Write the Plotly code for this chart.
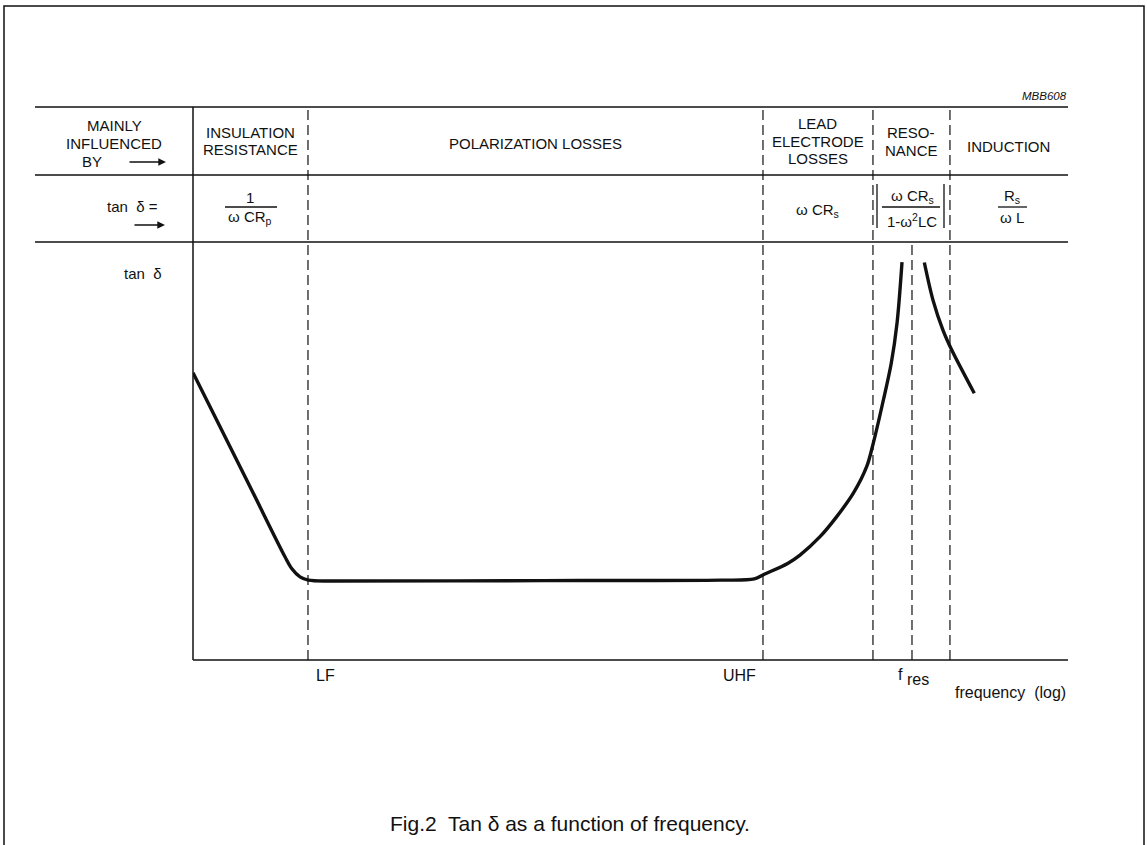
import plotly.graph_objects as go

# ---------------- data (x: log frequency, arbitrary 0-100; y: tan delta, arbitrary 0-100)
low_x = [0, 6.32, 10.51, 11.28, 12.23, 13.18, 16.23, 40.0, 60.34, 64.15, 65.29, 67.96, 69.37, 71.66,
         73.57, 75.47, 77.0, 77.75, 78.9, 79.8, 80.46, 81.03]
low_y = [68.7, 42.3, 24.7, 21.9, 19.9, 19.1, 18.9, 19.0, 19.1, 19.4, 20.5, 23.1, 25.1, 29.5,
         34.3, 39.9, 46.3, 51.9, 62.2, 71.0, 80.6, 95.2]
high_x = [83.58, 84.57, 85.71, 86.70, 89.29]
high_y = [95.1, 86.1, 78.9, 74.2, 63.8]

# region boundaries on the frequency axis
boundary_x = [13.14, 65.14, 77.71, 86.51]        # LF, UHF, lead/resonance, resonance/induction
fres_x = 82.17
tick_labels = ["LF", "UHF"]

region_heads = [["MAINLY", "INFLUENCED", "BY"], ["INSULATION", "RESISTANCE"], ["POLARIZATION LOSSES"],
                ["LEAD", "ELECTRODE", "LOSSES"], ["RESO-", "NANCE"], ["INDUCTION"]]

# ---------------- geometry
W, H = 1147, 845
L, R, T, B = 193, 1068, 242, 660
XMAX = 100.0

def px_x(px):
    return (px - L) / (R - L)

def px_y(py):
    return (B - py) / (B - T)

def dx(x):
    return L + (R - L) * x / XMAX

FONT = "Liberation Sans, Arial, Helvetica, sans-serif"
INK = "#111111"

fig = go.Figure()
for xs, ys in ((low_x, low_y), (high_x, high_y)):
    fig.add_trace(go.Scatter(x=xs, y=ys, mode="lines",
                             line=dict(color=INK, width=3.4, shape="spline", smoothing=0.9),
                             hoverinfo="skip", showlegend=False))

shapes = []
# outer frame
shapes.append(dict(type="rect", xref="paper", yref="paper", x0=px_x(4), x1=px_x(1144),
                   y0=px_y(850), y1=px_y(6), line=dict(color=INK, width=1.5)))
# table horizontal rules
for py in (107, 175):
    shapes.append(dict(type="line", xref="paper", yref="paper", x0=px_x(35), x1=px_x(1068),
                       y0=px_y(py), y1=px_y(py), line=dict(color=INK, width=1.5)))
shapes.append(dict(type="line", xref="paper", yref="paper", x0=px_x(35), x1=px_x(1068),
                   y0=1, y1=1, line=dict(color=INK, width=1.5)))
# left solid column line / y axis
shapes.append(dict(type="line", xref="paper", yref="paper", x0=0, x1=0, y0=0, y1=px_y(107),
                   line=dict(color=INK, width=1.5)))
# bottom axis
shapes.append(dict(type="line", xref="paper", yref="paper", x0=0, x1=1, y0=0, y1=0,
                   line=dict(color=INK, width=1.5)))
# dashed boundaries
for bx in boundary_x:
    shapes.append(dict(type="line", xref="x", yref="paper", x0=bx, x1=bx, y0=0, y1=px_y(107),
                       line=dict(color=INK, width=1.2, dash="10px,5px")))
shapes.append(dict(type="line", xref="x", yref="paper", x0=fres_x, x1=fres_x, y0=0, y1=1,
                   line=dict(color=INK, width=1.2, dash="10px,5px")))

ann = []
def text(px, py, s, size=15, xanchor="center", **kw):
    ann.append(dict(xref="paper", yref="paper", x=px_x(px), y=px_y(py), text=s, showarrow=False,
                    xanchor=xanchor, yanchor="middle", font=dict(family=FONT, size=size, color=INK), **kw))

def bar(x0, x1, py):
    shapes.append(dict(type="line", xref="paper", yref="paper", x0=px_x(x0), x1=px_x(x1),
                       y0=px_y(py), y1=px_y(py), line=dict(color=INK, width=1.3)))

def arrow(x0, x1, py):
    ann.append(dict(xref="paper", yref="paper", x=px_x(x1), y=px_y(py), ax=x0 - x1, ay=0,
                    axref="pixel", ayref="pixel", text="", showarrow=True,
                    arrowhead=2, arrowsize=1.1, arrowwidth=1.4, arrowcolor=INK))

# column centres
edges = [35, L] + [dx(b) for b in boundary_x] + [R]
centres = [(edges[i] + edges[i + 1]) / 2 for i in range(len(edges) - 1)]

head_rows = [[125, 143.5, 162], [132, 149.5], [143.5], [123.5, 141, 158.5], [133, 150.5], [146.5]]
for ci, (lines, rows) in enumerate(zip(region_heads, head_rows)):
    for s, py in zip(lines, rows):
        if ci == 0 and s == "BY":
            text(centres[0] - 22, py, s)
        else:
            text(centres[ci], py, s)
arrow(128, 166, 162)

# formula row
text(132, 206, "tan  δ =")
arrow(133, 165, 225)
text(centres[1], 198, "1")
bar(225, 277, 207)
text(centres[1], 218, "ω CR<sub>p</sub>")
text(centres[3], 211, "ω CR<sub>s</sub>")
text(912, 196, "ω CR<sub>s</sub>")
bar(882, 940, 207)
text(912, 220, "1-ω<sup>2</sup>LC")
for bx_ in (877, 944):
    shapes.append(dict(type="line", xref="paper", yref="paper", x0=px_x(bx_), x1=px_x(bx_),
                       y0=px_y(184), y1=px_y(228), line=dict(color=INK, width=1.3)))
text(1012, 196, "R<sub>s</sub>")
bar(998, 1027, 207)
text(1012, 218, "ω L")

# axis labels
text(143, 273, "tan  δ", size=15)
text(dx(boundary_x[0]) + 6, 675, tick_labels[0], size=16, xanchor="left")
text(dx(boundary_x[1]) - 5, 675, tick_labels[1], size=16, xanchor="right")
text(dx(fres_x) - 16, 674, "f", size=16, xanchor="left")
text(dx(fres_x) - 7, 679, "res", size=16, xanchor="left")
text(1068, 692, "frequency  (log)", size=16, xanchor="right")
text(1069, 96, "<i>MBB608</i>", size=11.5, xanchor="right")
text(570, 823, "Fig.2  Tan δ as a function of frequency.", size=21)

fig.update_layout(
    width=W, height=H, margin=dict(l=L, r=W - R, t=T, b=H - B),
    paper_bgcolor="white", plot_bgcolor="white",
    xaxis=dict(range=[0, XMAX], showgrid=False, zeroline=False, showticklabels=False, ticks="", showline=False),
    yaxis=dict(range=[0, 100], showgrid=False, zeroline=False, showticklabels=False, ticks="", showline=False),
    shapes=shapes, annotations=ann, showlegend=False,
)
fig.write_html("out.html", config={"displayModeBar": False},
               post_script="document.body.style.margin='0';document.body.style.overflow='hidden';")
